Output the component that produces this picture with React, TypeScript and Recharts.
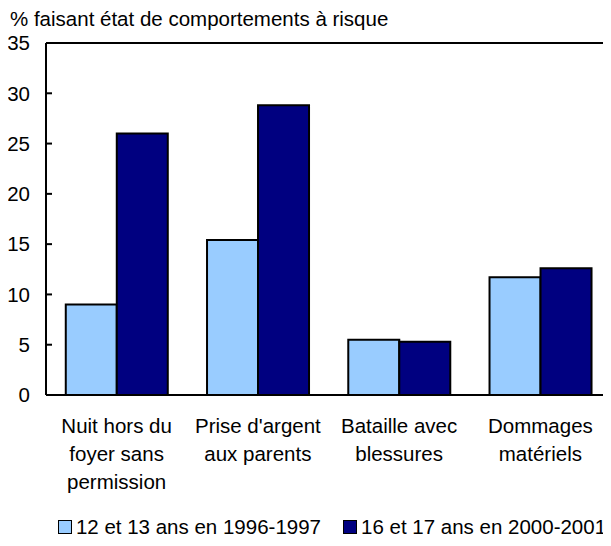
import { BarChart, Bar, XAxis, YAxis, Legend, ReferenceLine } from 'recharts'

const categories = [
    ['Nuit hors du', 'foyer sans', 'permission'],
    ["Prise d'argent", 'aux parents'],
    ['Bataille avec', 'blessures'],
    ['Dommages', 'matériels'],
]
const younger = [9.0, 15.4, 5.5, 11.7]
const older = [26.0, 28.8, 5.3, 12.6]
const yTicks = [0, 5, 10, 15, 20, 25, 30, 35]

const seriesNames = ['12 et 13 ans en 1996-1997', '16 et 17 ans en 2000-2001']
const colors = ['#99CCFF', '#000080']

const data = categories.map((lines, i) => ({
    name: lines.join(' '),
    younger: younger[i],
    older: older[i],
}))

const font = 'Arial, "Liberation Sans", sans-serif'
const fs = 20.5

// multi-line category labels under the x axis
const CategoryTick = (props: any) => {
    const { x, y, index } = props
    const lines = categories[index] || []
    return (
        <text x={x} y={y + 30} textAnchor="middle" fill="#000" fontSize={fs} fontFamily={font}>
            {lines.map((l, i) => (
                <tspan key={i} x={x} dy={i === 0 ? 0 : 28}>
                    {l}
                </tspan>
            ))}
        </text>
    )
}

const LegendContent = () => (
    <div
        style={{
            display: 'flex',
            justifyContent: 'center',
            gap: 22,
            fontFamily: font,
            fontSize: fs,
            height: 30,
            alignItems: 'center',
            paddingLeft: 43,
            whiteSpace: 'nowrap',
        }}
    >
        {seriesNames.map((n, i) => (
            <span key={n} style={{ display: 'flex', alignItems: 'center' }}>
                <span
                    style={{
                        width: 12,
                        height: 12,
                        background: colors[i],
                        border: '1.5px solid #000',
                        marginRight: 4,
                        display: 'inline-block',
                    }}
                />
                {n}
            </span>
        ))}
    </div>
)

export default function App() {
    return (
        <div style={{ margin: -8, position: 'relative', width: 611, height: 546, background: '#fff' }}>
            <div
                style={{
                    position: 'absolute',
                    left: 10,
                    top: 7,
                    fontFamily: font,
                    fontSize: fs,
                    color: '#000',
                    whiteSpace: 'nowrap',
                }}
            >
                % faisant état de comportements à risque
            </div>
            <BarChart
                width={611}
                height={546}
                data={data}
                margin={{ top: 43, right: 0, left: 10, bottom: 4 }}
                barCategoryGap="14%"
                barGap={0}
            >
                <XAxis
                    dataKey="name"
                    axisLine={{ stroke: '#000', strokeWidth: 2 }}
                    tickLine={false}
                    tick={<CategoryTick />}
                    height={117}
                    interval={0}
                />
                <YAxis
                    domain={[0, 35]}
                    ticks={yTicks}
                    width={36}
                    axisLine={{ stroke: '#000', strokeWidth: 2 }}
                    tickLine={{ stroke: '#000', strokeWidth: 2 }}
                    tickSize={-6}
                    tick={{ fill: '#000', fontSize: fs, fontFamily: font, dx: -20 }}
                    interval={0}
                />
                <ReferenceLine y={35} stroke="#000" strokeWidth={2} />
                <Legend verticalAlign="bottom" content={<LegendContent />} />
                <Bar dataKey="younger" fill={colors[0]} stroke="#000" strokeWidth={2} isAnimationActive={false} />
                <Bar dataKey="older" fill={colors[1]} stroke="#000" strokeWidth={2} isAnimationActive={false} />
            </BarChart>
        </div>
    )
}
